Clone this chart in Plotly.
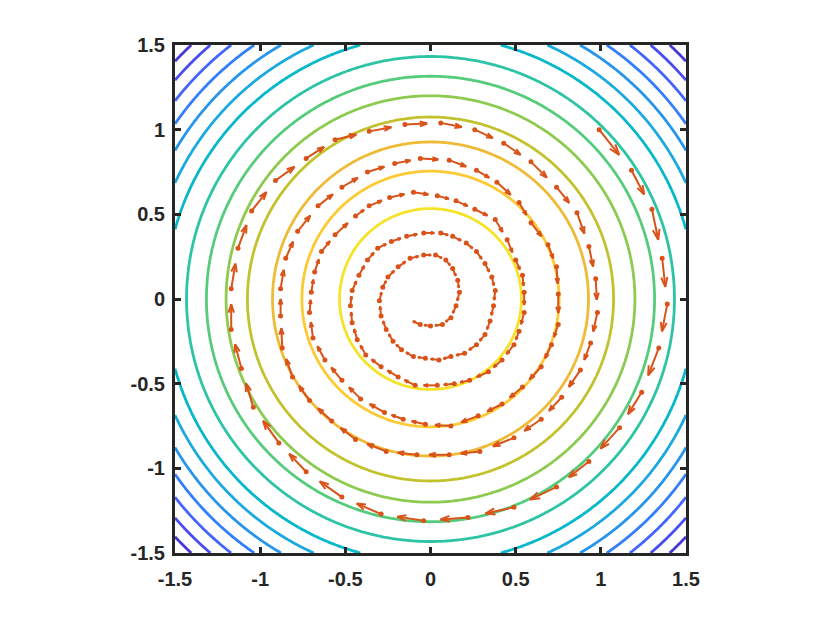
import numpy as np
import plotly.graph_objects as go

# ---------------- data ----------------
# contour levels of x^2 + y^2 (read from the circle radii)
LEVELS = [0.285, 0.57, 0.86, 1.155, 1.44, 1.73, 2.05, 2.42, 2.72, 3.02,
          3.32, 3.62, 3.92, 4.22]
Z_MAX = 4.5  # value of x^2+y^2 at the corners (colour range)

# trajectory (clockwise inward spiral); quiver arrows go from point i toward point i+1
PATH_X = [0.99, 1.18, 1.30, 1.36, 1.39, 1.34, 1.24, 1.11, 0.93, 0.74,
          0.49, 0.22, -0.04, -0.29, -0.52, -0.73, -0.89, -1.04, -1.11, -1.17,
          -1.17, -1.13, -1.05, -0.91, -0.73, -0.56, -0.36, -0.15, 0.06, 0.26,
          0.43, 0.59, 0.74, 0.86, 0.93, 0.97, 0.98, 0.94, 0.88, 0.77,
          0.65, 0.49, 0.29, 0.11, -0.08, -0.26, -0.44, -0.58, -0.71, -0.81,
          -0.87, -0.88, -0.88, -0.85, -0.78, -0.66, -0.52, -0.37, -0.21, -0.06,
          0.11, 0.27, 0.39, 0.52, 0.59, 0.69, 0.74, 0.75, 0.75, 0.71,
          0.65, 0.54, 0.42, 0.28, 0.12, -0.03, -0.16, -0.27, -0.41, -0.52,
          -0.62, -0.69, -0.71, -0.70, -0.68, -0.64, -0.56, -0.44, -0.36, -0.24,
          -0.10, 0.04, 0.15, 0.26, 0.38, 0.45, 0.50, 0.54, 0.55, 0.55,
          0.52, 0.49, 0.42, 0.34, 0.23, 0.14, 0.04, -0.09, -0.19, -0.29,
          -0.38, -0.43, -0.46, -0.47, -0.46, -0.42, -0.37, -0.31, -0.23, -0.14,
          -0.04, 0.06, 0.13, 0.21, 0.27, 0.32, 0.36, 0.38, 0.37, 0.35,
          0.32, 0.27, 0.20, 0.12, 0.05, -0.03, -0.10, -0.17, -0.22, -0.26,
          -0.29, -0.30, -0.28, -0.25, -0.19, -0.12, -0.04, 0.03, 0.09, 0.13,
          0.16, 0.17, 0.15, 0.12, 0.07, 0.00, -0.06, -0.13]
PATH_Y = [1.00, 0.76, 0.53, 0.24, -0.03, -0.29, -0.55, -0.76, -0.96, -1.11,
          -1.23, -1.29, -1.31, -1.27, -1.17, -1.02, -0.85, -0.64, -0.41, -0.18,
          0.06, 0.30, 0.52, 0.70, 0.83, 0.94, 0.99, 1.03, 1.04, 1.00,
          0.92, 0.81, 0.66, 0.51, 0.31, 0.12, -0.08, -0.26, -0.42, -0.58,
          -0.71, -0.82, -0.90, -0.92, -0.92, -0.90, -0.83, -0.72, -0.60, -0.46,
          -0.29, -0.10, 0.06, 0.24, 0.40, 0.55, 0.66, 0.75, 0.80, 0.83,
          0.82, 0.76, 0.69, 0.57, 0.45, 0.32, 0.19, 0.03, -0.15, -0.27,
          -0.40, -0.52, -0.62, -0.69, -0.75, -0.74, -0.71, -0.67, -0.59, -0.48,
          -0.36, -0.23, -0.08, 0.04, 0.16, 0.28, 0.38, 0.49, 0.55, 0.60,
          0.63, 0.61, 0.58, 0.53, 0.47, 0.35, 0.23, 0.14, 0.04, -0.08,
          -0.19, -0.27, -0.36, -0.43, -0.48, -0.50, -0.51, -0.51, -0.46, -0.40,
          -0.33, -0.24, -0.14, -0.04, 0.05, 0.14, 0.23, 0.30, 0.34, 0.37,
          0.39, 0.39, 0.37, 0.33, 0.28, 0.21, 0.13, 0.05, -0.04, -0.13,
          -0.21, -0.27, -0.32, -0.34, -0.36, -0.35, -0.34, -0.30, -0.25, -0.18,
          -0.10, -0.01, 0.07, 0.13, 0.19, 0.24, 0.26, 0.26, 0.23, 0.18,
          0.11, 0.04, -0.04, -0.11, -0.15, -0.16, -0.15, -0.12]
ARROW_SCALE = 0.62

TICKS = [-1.5, -1, -0.5, 0, 0.5, 1, 1.5]
TICK_TEXT = ["-1.5", "-1", "-0.5", "0", "0.5", "1", "1.5"]

# ---------------- styles ----------------
PARULA = [
    (0.2422, 0.1504, 0.6603), (0.2647, 0.1978, 0.7952), (0.2783, 0.2559, 0.8991),
    (0.2810, 0.3228, 0.9579), (0.2699, 0.3892, 0.9906), (0.2206, 0.4603, 0.9973),
    (0.1786, 0.5289, 0.9682), (0.1540, 0.5902, 0.9218), (0.1248, 0.6459, 0.8883),
    (0.0689, 0.6948, 0.8394), (0.0067, 0.7312, 0.7660), (0.1408, 0.7584, 0.6842),
    (0.2161, 0.7843, 0.5923), (0.3406, 0.8008, 0.4789), (0.5044, 0.7993, 0.3480),
    (0.6720, 0.7793, 0.2227), (0.8203, 0.7498, 0.1535), (0.9393, 0.7288, 0.2100),
    (0.9970, 0.7659, 0.2199), (0.9786, 0.8386, 0.1766), (0.9597, 0.9135, 0.1423),
    (0.9769, 0.9839, 0.0805)]


def parula(t):
    t = min(max(t, 0.0), 1.0)
    n = len(PARULA) - 1
    f = t * n
    i = min(int(f), n - 1)
    w = f - i
    c = [PARULA[i][k] * (1 - w) + PARULA[i + 1][k] * w for k in range(3)]
    return "rgb(%d,%d,%d)" % tuple(round(255 * v) for v in c)


ARROW_COLOR = "#D95319"
AXIS_COLOR = "#262626"
FONT = dict(family="Liberation Sans, Arial, Helvetica, sans-serif", size=20,
            color=AXIS_COLOR, weight="bold")

# ---------------- contour ----------------
# z is a monotone relabelling of x^2+y^2 so that each read level becomes an integer
g = np.linspace(-1.5, 1.5, 241)
GX, GY = np.meshgrid(g, g)
R2 = GX ** 2 + GY ** 2
n = len(LEVELS)
Z = np.interp(R2, [0.0] + LEVELS + [Z_MAX + 0.1],
              [0.0] + list(range(1, n + 1)) + [n + 1.0])
cscale = [[i / (n - 1), parula(1 - LEVELS[i] / Z_MAX)] for i in range(n)]

fig = go.Figure()
fig.add_trace(go.Contour(
    x=g, y=g, z=Z,
    contours=dict(start=1, end=n, size=1, coloring="lines"),
    colorscale=cscale, showscale=False, line=dict(width=2.8, smoothing=1.0),
    hoverinfo="skip"))

# ---------------- quiver ----------------
px = np.array(PATH_X)
py = np.array(PATH_Y)
U = np.diff(px) * ARROW_SCALE
V = np.diff(py) * ARROW_SCALE
tx, ty = px[:-1], py[:-1]
alpha, beta = 0.33, 0.33
lx, ly = [], []
for x0, y0, u, v in zip(tx, ty, U, V):
    x1, y1 = x0 + u, y0 + v
    lx += [x0, x1, None]
    ly += [y0, y1, None]
    lx += [x1 - alpha * (u + beta * v), x1, x1 - alpha * (u - beta * v), None]
    ly += [y1 - alpha * (v - beta * u), y1, y1 - alpha * (v + beta * u), None]

fig.add_trace(go.Scatter(x=lx, y=ly, mode="lines",
                         line=dict(color=ARROW_COLOR, width=2),
                         hoverinfo="skip", showlegend=False))
fig.add_trace(go.Scatter(x=tx, y=ty, mode="markers",
                         marker=dict(color=ARROW_COLOR, size=5),
                         hoverinfo="skip", showlegend=False))

axis_common = dict(range=[-1.5, 1.5], tickvals=TICKS, ticktext=TICK_TEXT,
                   ticks="inside", ticklen=6, tickwidth=3, tickcolor=AXIS_COLOR,
                   showline=True, linewidth=3, linecolor=AXIS_COLOR, mirror="ticks",
                   showgrid=False, zeroline=False, tickfont=FONT)
fig.update_xaxes(**axis_common, ticklabelstandoff=6)
fig.update_yaxes(**axis_common, ticklabelstandoff=3)
fig.update_layout(width=822, height=615,
                  margin=dict(l=167, r=144, t=37, b=70),
                  paper_bgcolor="white", plot_bgcolor="white",
                  showlegend=False)
fig.write_html("out.html")
